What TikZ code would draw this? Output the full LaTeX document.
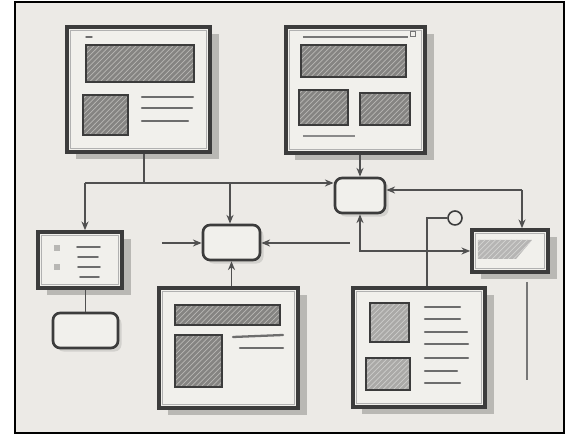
\documentclass[tikz,border=0pt]{standalone}
\usetikzlibrary{patterns,shadows,arrows.meta}
\definecolor{inkc}{HTML}{3C3C3C}
\definecolor{paper}{HTML}{ECEAE6}
\definecolor{paperw}{HTML}{F1F0EC}
\definecolor{hatchd}{HTML}{858482}
\definecolor{hatchl}{HTML}{B8B7B4}
\definecolor{shadowc}{HTML}{6E6D6B}
\tikzset{
  win/.style={draw=inkc, line width=2pt, fill=paperw, rectangle, inner sep=0pt,
    drop shadow={shadow xshift=5pt, shadow yshift=-4pt, fill=shadowc, opacity=0.4}},
  boxr/.style={draw=inkc, line width=1.5pt, fill=paperw, rounded corners=4pt, inner sep=0pt,
    drop shadow={shadow xshift=2pt, shadow yshift=-2pt, fill=shadowc, opacity=0.2}},
  hatch/.style={draw=inkc, line width=1.3pt, rectangle, inner sep=0pt,
    pattern=north east lines, pattern color=hatchl, preaction={fill=hatchd}},
  txt/.style={draw=inkc!75, line width=1.3pt, line cap=round},
  inner/.style={draw=inkc!40, line width=0.6pt},
  conn/.style={draw=inkc!90, line width=0.9pt},
  arr/.style={conn, -{Stealth[length=5pt,width=4pt]}},
  darr/.style={conn, {Stealth[length=5pt,width=4pt]}-{Stealth[length=5pt,width=4pt]}},
}
\begin{document}
\begin{tikzpicture}[x=0.02cm, y=-0.02cm]
\fill[white] (0,0) rectangle (566,435);
\useasboundingbox (0,0) rectangle (566,435);
\draw[line width=1.6pt, fill=paper] (15,2) rectangle (564,433);

% windows
\node[win, minimum width=2.86cm, minimum height=2.5cm] (A) at (138.5,89.5) {};
\node[win, minimum width=2.78cm, minimum height=2.52cm] (B) at (355.5,90) {};
\node[win, minimum width=2.78cm, minimum height=2.4cm] (G) at (228.5,348) {};
\node[win, minimum width=2.64cm, minimum height=2.38cm] (H) at (419,347.5) {};
\node[win, minimum width=1.68cm, minimum height=1.12cm] (E) at (80,260) {};
\node[win, minimum width=1.52cm, minimum height=0.84cm] (I) at (510,251) {};
\foreach \w in {A,B,G,H,E,I}
  \draw[inner] ([shift={(3pt,-3pt)}]\w.north west) rectangle ([shift={(-3pt,3pt)}]\w.south east);

% small rounded boxes
\node[boxr, minimum width=1.0cm, minimum height=0.7cm] (C) at (360,195.5) {};
\node[boxr, minimum width=1.14cm, minimum height=0.7cm] (D) at (231.5,242.5) {};
\node[boxr, minimum width=1.3cm, minimum height=0.7cm] (F) at (85.5,330.5) {};

% window A content
\draw[txt, line width=0.8pt] (86,37) -- (92,37);
\node[hatch, minimum width=2.16cm, minimum height=0.74cm] (Ab) at (140,63.5) {};
\node[hatch, minimum width=0.9cm, minimum height=0.8cm] (As) at (105.5,115) {};
\draw[txt] (142,97) -- (193,97);
\draw[txt] (142,108) -- (192,108);
\draw[txt] (142,121) -- (188,121);

% window B content
\draw[inkc!70, line width=0.8pt] (303,37) -- (408,37);
\node[draw=inkc!70, line width=0.6pt, minimum size=0.09cm, inner sep=0pt] (Bi) at (413,34) {};
\node[hatch, minimum width=2.1cm, minimum height=0.64cm] (Bb) at (353.5,61) {};
\node[hatch, minimum width=0.98cm, minimum height=0.7cm] (Bs1) at (323.5,107.5) {};
\node[hatch, minimum width=1.0cm, minimum height=0.64cm] (Bs2) at (385,109) {};
\draw[inkc!60, line width=0.8pt] (303,136) -- (355,136);

% window E content
\node[fill=hatchl, minimum size=0.12cm, inner sep=0pt] (Ei1) at (57,248) {};
\node[fill=hatchl, minimum size=0.12cm, inner sep=0pt] (Ei2) at (57,267) {};
\draw[txt, line width=1pt] (77,247) -- (100,247);
\draw[txt, line width=1pt] (78,257) -- (98,257);
\draw[txt, line width=1pt] (78,267) -- (100,267);
\draw[txt, line width=1pt] (80,277) -- (99,277);

% window G content
\node[hatch, minimum width=2.1cm, minimum height=0.4cm] (Gb) at (227.5,315) {};
\node[hatch, minimum width=0.94cm, minimum height=1.04cm] (Gs) at (198.5,361) {};
\draw[txt] (233,337) -- (283,335);
\draw[txt] (240,348) -- (283,348);

% window H content
\node[hatch, pattern color=hatchl!70!white, preaction={fill=hatchd!70!white}, minimum width=0.78cm, minimum height=0.78cm] (Hs1) at (389.5,322.5) {};
\node[hatch, pattern color=hatchl!70!white, preaction={fill=hatchd!70!white}, minimum width=0.88cm, minimum height=0.64cm] (Hs2) at (388,374) {};
\draw[txt] (425,307) -- (460,307);
\draw[txt] (425,319) -- (460,319);
\draw[txt] (425,332) -- (467,332);
\draw[txt] (425,344) -- (468,344);
\draw[txt] (425,358) -- (468,358);
\draw[txt] (425,371) -- (457,371);
\draw[txt] (425,383) -- (460,383);

% window I content
\fill[hatchd!60!white] (478,240) -- (532,240) -- (516,259) -- (478,259) -- cycle;
\path[pattern=north east lines, pattern color=hatchl!60!white] (478,240) -- (532,240) -- (516,259) -- (478,259) -- cycle;

% connectors
\coordinate (jA) at (144,183);
\coordinate (jL) at (85,183);
\coordinate (jD) at (230,183);
\draw[conn] (A.south -| jA) -- (jA);
\draw[arr] (jL) -- (jL |- E.north);
\draw[arr] (jL) -- (C.west |- jL);
\draw[arr] (jD) -- (jD |- D.north);
\coordinate (lD) at (162,243);
\draw[arr] (lD) -- (lD -| D.west);
\coordinate (rD) at (350,243);
\draw[arr] (rD) -- (rD -| D.east);
\draw[arr] (G.north -| D.south) -- (D.south);
\draw[arr] (B.south -| C.north) -- (C.north);
\draw[darr] (C.south) |- (I.west);
\coordinate (jI) at (522,190);
\draw[arr] (jI) -- (jI -| C.east);
\draw[arr] (jI) -- (jI |- I.north);
\draw[conn] (F.north) -- (F.north |- E.south);
\node[draw=inkc, line width=0.9pt, circle, minimum size=0.28cm, inner sep=0pt] (pin) at (455,218) {};
\coordinate (pB) at (427,218);
\draw[conn] (pB |- H.north) -- (pB) -- (pin.west);
\coordinate (t1) at (527,282);
\coordinate (t2) at (527,380);
\draw[conn, inkc!70] (t1) -- (t2);
\end{tikzpicture}
\end{document}
